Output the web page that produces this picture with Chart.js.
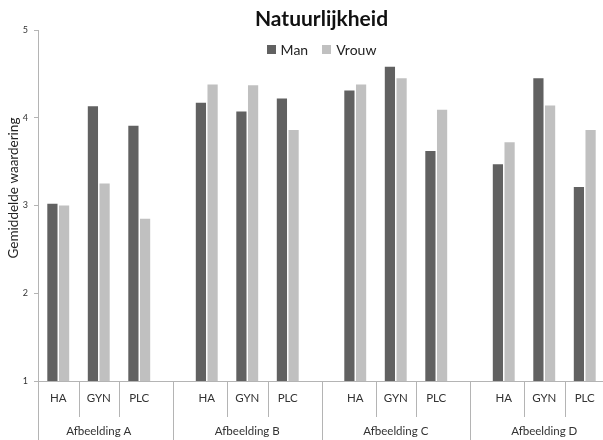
<!DOCTYPE html>
<html>
<head>
<meta charset="utf-8">
<script src="https://cdn.jsdelivr.net/npm/chart.js@4"></script>
<style>
  html, body { margin: 0; padding: 0; background: #fff; overflow: hidden; }
  canvas { display: block; }
</style>
</head>
<body>
<canvas id="chart" width="605" height="440"></canvas>
<script>
// Data
const groups = ['Afbeelding A', 'Afbeelding B', 'Afbeelding C', 'Afbeelding D'];
const conditions = ['HA', 'GYN', 'PLC'];
const seriesNames = ['Man', 'Vrouw'];
const man   = [3.02, 4.13, 3.91, 4.17, 4.07, 4.22, 4.31, 4.58, 3.62, 3.47, 4.45, 3.21];
const vrouw = [3.00, 3.25, 2.85, 4.38, 4.37, 3.86, 4.38, 4.45, 4.09, 3.72, 4.14, 3.86];
const yTicks = [1, 2, 3, 4, 5];

// Layout of the category axis: narrow slots, one bar pair every third slot,
// with a wider gap between the image groups.
const SLOTS_PER_GROUP = 11;
const SLOT_COUNT = groups.length * SLOTS_PER_GROUP - 2;
const slotOf = (g, c) => g * SLOTS_PER_GROUP + 1 + 3 * c;

const slotLabels = new Array(SLOT_COUNT).fill('');
const manSlots = new Array(SLOT_COUNT).fill(null);
const vrouwSlots = new Array(SLOT_COUNT).fill(null);
groups.forEach((grp, g) => {
  conditions.forEach((cond, c) => {
    const s = slotOf(g, c);
    const k = g * conditions.length + c;
    slotLabels[s] = cond;
    manSlots[s] = man[k];
    vrouwSlots[s] = vrouw[k];
  });
});

const FONT = 'Lato, "Open Sans", "Liberation Sans", sans-serif';
const AXIS_GREY = '#b4b4b4';

// Two-level category labels and separators under the x axis
const categoryTable = {
  id: 'categoryTable',
  afterDraw(chart) {
    const ctx = chart.ctx;
    const xs = chart.scales.x;
    const area = chart.chartArea;
    const bottom = area.bottom;
    const H = chart.height;
    const px = s => xs.getPixelForValue(s);
    ctx.save();
    ctx.strokeStyle = AXIS_GREY;
    ctx.lineWidth = 1;
    const vline = (x, y2) => {
      const xx = Math.round(x) + 0.5;
      ctx.beginPath();
      ctx.moveTo(xx, bottom);
      ctx.lineTo(xx, y2);
      ctx.stroke();
    };
    groups.forEach((grp, g) => {
      // group boundary
      if (g === 0) {
        vline(area.left - 0.5, H);
      } else {
        vline((px(slotOf(g - 1, conditions.length - 1)) + px(slotOf(g, 0))) / 2, H);
      }
      // condition boundaries
      for (let c = 1; c < conditions.length; c++) {
        vline((px(slotOf(g, c - 1)) + px(slotOf(g, c))) / 2, bottom + 36);
      }
    });
    ctx.fillStyle = '#333';
    ctx.textAlign = 'center';
    ctx.textBaseline = 'middle';
    ctx.font = '11.5px ' + FONT;
    groups.forEach((grp, g) => {
      conditions.forEach((cond, c) => {
        ctx.fillText(cond, px(slotOf(g, c)), bottom + 17);
      });
    });
    ctx.font = '11.5px ' + FONT;
    groups.forEach((grp, g) => {
      ctx.fillText(grp, px(slotOf(g, 1)), bottom + 50);
    });

    // y axis title
    ctx.save();
    ctx.translate(14, 188);
    ctx.rotate(-Math.PI / 2);
    ctx.font = '13.5px ' + FONT;
    ctx.fillStyle = '#222';
    ctx.fillText('Gemiddelde waardering', 0, 0);
    ctx.restore();

    // legend
    ctx.font = '14px ' + FONT;
    const box = 9, gapBox = 5, gapItem = 14;
    const items = chart.data.datasets.map(ds => ({
      text: ds.label, color: ds.backgroundColor, w: ctx.measureText(ds.label).width
    }));
    let total = items.reduce((a, it) => a + box + gapBox + it.w, 0) + gapItem * (items.length - 1);
    let x = (area.left + area.right) / 2 - total / 2;
    const ly = 49;
    ctx.textAlign = 'left';
    items.forEach(it => {
      ctx.fillStyle = it.color;
      ctx.fillRect(Math.round(x), Math.round(ly - box / 2), box, box);
      x += box + gapBox;
      ctx.fillStyle = '#222';
      ctx.fillText(it.text, x, ly + 1);
      x += it.w + gapItem;
    });
    ctx.restore();
  }
};

new Chart(document.getElementById('chart'), {
  type: 'bar',
  data: {
    labels: slotLabels,
    datasets: [
      { label: seriesNames[0], data: manSlots, backgroundColor: '#616161' },
      { label: seriesNames[1], data: vrouwSlots, backgroundColor: '#c0c0c0' }
    ]
  },
  options: {
    responsive: false,
    animation: false,
    devicePixelRatio: 1,
    categoryPercentage: 1.73,
    barPercentage: 0.875,
    layout: { padding: { left: 0, right: 0, top: 0, bottom: 0 } },
    plugins: {
      legend: { display: false },
      tooltip: { enabled: false },
      title: {
        display: true,
        fullSize: false,
        text: 'Natuurlijkheid',
        color: '#111',
        font: { family: FONT, size: 21, weight: 'bold', lineHeight: 1 },
        padding: { top: 9, bottom: 0 }
      }
    },
    scales: {
      x: {
        type: 'category',
        offset: true,
        ticks: { display: false },
        grid: { display: false },
        border: { display: true, color: AXIS_GREY, width: 1 },
        afterFit(scale) { scale.height = 59; }
      },
      y: {
        min: 1,
        max: 5,
        afterBuildTicks(scale) { scale.ticks = yTicks.map(v => ({ value: v })); },
        ticks: {
          color: '#333',
          padding: 6,
          font: { family: FONT, size: 9 }
        },
        grid: {
          display: true,
          drawOnChartArea: false,
          drawTicks: true,
          tickLength: 4,
          color: AXIS_GREY
        },
        border: { display: true, color: AXIS_GREY, width: 1 },
        afterFit(scale) { scale.width = 38; }
      }
    }
  },
  plugins: [categoryTable]
});
</script>
</body>
</html>
